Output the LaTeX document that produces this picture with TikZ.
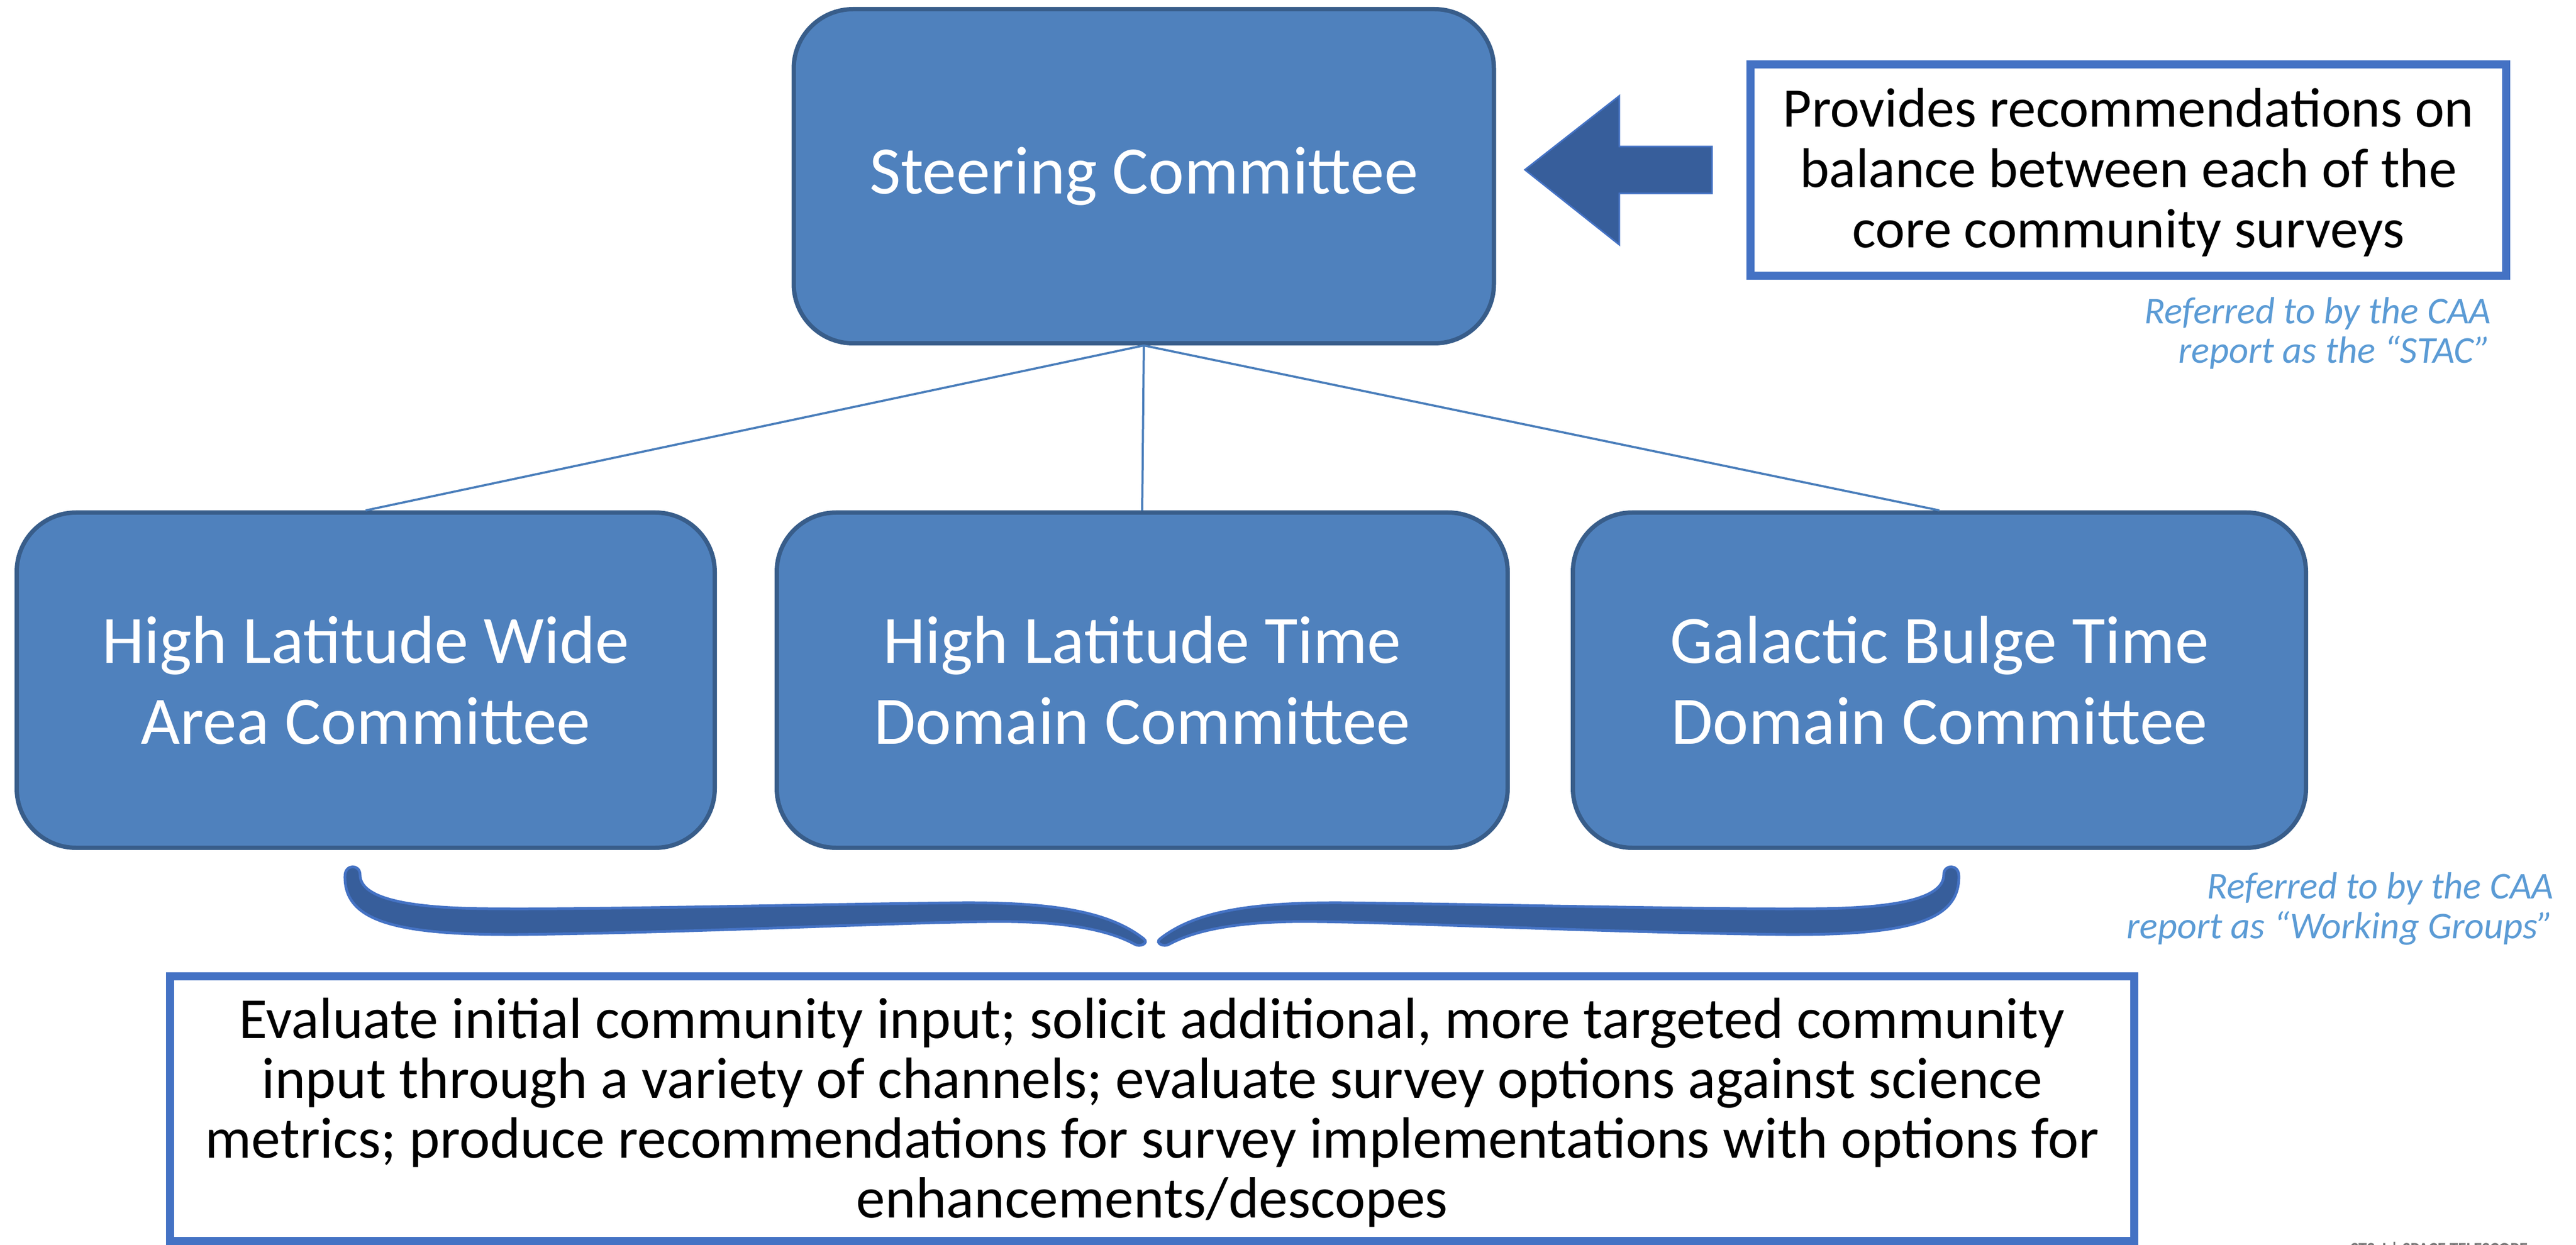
\documentclass[tikz,border=0pt]{standalone}
\usepackage{fontspec}
\setmainfont{Carlito}
\usetikzlibrary{calc}

\definecolor{boxfill}{HTML}{4F81BD}
\definecolor{boxline}{HTML}{385D8A}
\definecolor{linkline}{HTML}{4A7EBB}
\definecolor{frame}{HTML}{4472C4}
\definecolor{arrowfill}{HTML}{375E9B}
\definecolor{note}{HTML}{5B9BD5}

\def\bracehalf{(6.40,-16.25) .. controls (6.38,-17.08) and (7.30,-17.35) .. (9.60,-17.34)
	.. controls (13.0,-17.30) and (16.5,-17.12) .. (18.30,-17.10)
	.. controls (19.60,-17.08) and (20.50,-17.22) .. (21.05,-17.52)
	.. controls (21.15,-17.58) and (21.32,-17.50) .. (21.22,-17.42)
	.. controls (20.60,-16.93) and (19.60,-16.74) .. (17.84,-16.75)
	.. controls (15.0,-16.78) and (11.0,-16.88) .. (9.06,-16.86)
	.. controls (7.30,-16.85) and (6.68,-16.60) .. (6.68,-16.23)
	.. controls (6.68,-16.03) and (6.40,-16.03) .. (6.40,-16.25) -- cycle}

\tikzset{
	committee/.style={draw=boxline, line width=0.08cm, fill=boxfill, rounded corners=1.1cm,
		text=white, align=center, font=\fontsize{35.8}{42.7}\selectfont},
	notebox/.style={draw=frame, line width=0.15cm, fill=white, align=center},
	remark/.style={text=note, align=right, inner sep=0pt, font=\itshape\fontsize{20}{20.8}\selectfont},
	link/.style={draw=linkline, line width=0.04cm},
	bracepart/.style={fill=arrowfill, draw=frame, line width=0.05cm},
}

\begin{document}
\begin{tikzpicture}
			%%%%% START %%%%%
			\useasboundingbox (0,0) rectangle (47.79,-23.10);
			
			\node[committee, minimum width=12.99cm, minimum height=6.20cm] (steer) at (21.22,-3.27) {Steering Committee};
			
			\node[committee, minimum width=12.95cm, minimum height=6.22cm] (wide) at (6.785,-12.62) {High Latitude Wide\\Area Committee};
			\node[committee, minimum width=13.56cm, minimum height=6.22cm] (hltd) at (21.19,-12.62) {High Latitude Time\\Domain Committee};
			\node[committee, minimum width=13.60cm, minimum height=6.22cm] (bulge) at (35.98,-12.62) {Galactic Bulge Time\\Domain Committee};
			
			\draw[link] (steer.south) -- (wide.north);
			\draw[link] (steer.south) -- (hltd.north);
			\draw[link] (steer.south) -- (bulge.north);
			
			\node[notebox, minimum width=14.02cm, minimum height=3.92cm, text depth=0.08cm, font=\fontsize{29.5}{31.8}\selectfont] (balance) at (39.485,-3.155) {Provides recommendations on\\balance between each of the\\core community surveys};
			
			\draw[fill=arrowfill, draw=frame, line width=0.03cm] (28.29,-3.15) -- (30.04,-1.78) -- (30.04,-2.72) -- (31.76,-2.72) -- (31.76,-3.59) -- (30.04,-3.59) -- (30.04,-4.54) -- cycle;
			
			\node[remark, anchor=base east] (stac) at (46.22,-6.74) {Referred to by the CAA\\report as the “STAC”};
			\node[remark, anchor=base east] (groups) at (47.38,-17.41) {Referred to by the CAA\\report as “Working Groups”};
			
			\draw[bracepart] \bracehalf;
			\begin{scope}[xshift=42.74cm, xscale=-1]
				\draw[bracepart] \bracehalf;
			\end{scope}
			
			\node[notebox, minimum width=36.44cm, minimum height=4.91cm, text depth=0.03cm, font=\fontsize{30.7}{31.6}\selectfont] (tasks) at (21.375,-20.57) {Evaluate initial community input; solicit additional, more targeted community\\input through a variety of channels; evaluate survey options against science\\metrics; produce recommendations for survey implementations with options for\\enhancements/descopes};
			
			\begin{scope}
				\clip (0,0) rectangle (47.79,-23.10);
				\node[anchor=north west, inner sep=0pt, text=black!55, font=\bfseries\fontsize{9}{9}\selectfont] (logo) at (43.60,-23.04) {STScI \textbar\ SPACE TELESCOPE};
			\end{scope}
			%%%%% END %%%%%
\end{tikzpicture}
\end{document}
